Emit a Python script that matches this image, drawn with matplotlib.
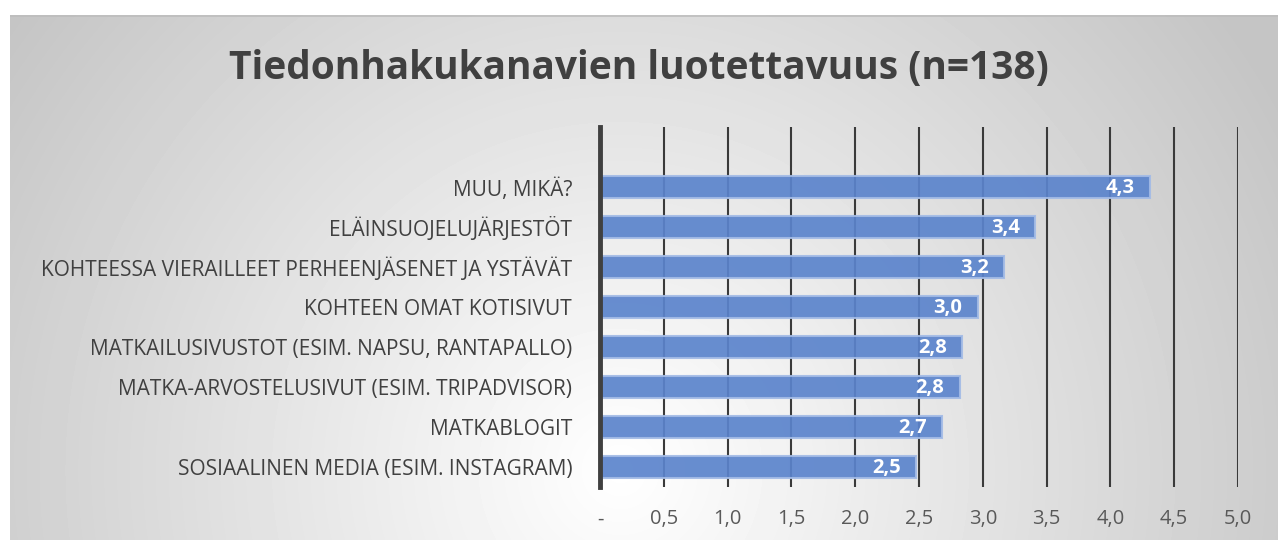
import matplotlib.pyplot as plt
import numpy as np

categories = ['SOSIAALINEN MEDIA (ESIM. INSTAGRAM)',
              'MATKABLOGIT',
              'MATKA-ARVOSTELUSIVUT (ESIM. TRIPADVISOR)',
              'MATKAILUSIVUSTOT (ESIM. NAPSU, RANTAPALLO)',
              'KOHTEEN OMAT KOTISIVUT',
              'KOHTEESSA VIERAILLEET PERHEENJÄSENET JA YSTÄVÄT',
              'ELÄINSUOJELUJÄRJESTÖT',
              'MUU, MIKÄ?']
values = [2.48, 2.68, 2.82, 2.84, 2.96, 3.17, 3.41, 4.31]
xticks = [0, 0.5, 1.0, 1.5, 2.0, 2.5, 3.0, 3.5, 4.0, 4.5, 5.0]
xlabels = ['-', '0,5', '1,0', '1,5', '2,0', '2,5', '3,0', '3,5', '4,0', '4,5', '5,0']
title = 'Tiedonhakukanavien luotettavuus (n=138)'

plt.rcParams['font.family'] = ['Open Sans', 'DejaVu Sans']
W, H = 1278, 540
fig = plt.figure(figsize=(W / 100, H / 100), dpi=100)

# radial gradient background
bg = fig.add_axes([10 / W, 0, (W - 10) / W, (H - 15) / H])
yy, xx = np.mgrid[15:H, 10:W]
d = np.hypot(xx - 620, yy - 470) / 760
shade = 1 - 0.23 * np.clip(d, 0, 1)
bg.imshow(shade, cmap='gray', vmin=0, vmax=1, aspect='auto',
          extent=(10, W, H, 15), interpolation='bilinear')
bg.plot([10, W], [15.5, 15.5], color='#bdbdbd', lw=1.2)
bg.set_xlim(10, W)
bg.set_ylim(H, 15)
bg.axis('off')

ax = fig.add_axes([600 / W, 1 - 487 / H, 638 / W, 360 / H])
ax.patch.set_alpha(0)
y = np.arange(len(categories))
ax.barh(y, values, height=0.56, color='#5b84cc', alpha=0.92,
        edgecolor='#a3bbe6', linewidth=1.5, zorder=3)
for yi, v in zip(y, values):
    ax.annotate(f'{v:.1f}'.replace('.', ','), (v, yi), xytext=(-11, -1),
                textcoords='offset points', ha='right', va='center',
                color='white', fontsize=14.5, fontweight='bold', zorder=4)

ax.set_xlim(0, 5.0)
ax.set_ylim(-0.5, len(categories) + 0.5)
ax.set_xticks(xticks)
ax.set_xticklabels(xlabels, fontsize=14.5, color='#595959')
ax.set_yticks(y)
ax.set_yticklabels(categories, fontsize=15, color='#404040')
ax.tick_params(length=0)
ax.tick_params(axis='x', pad=16)
ax.tick_params(axis='y', pad=20)
for x in xticks[1:]:
    ax.axvline(x, color='#3a3a3a', lw=1.5, zorder=2)
for s in ['top', 'right', 'bottom']:
    ax.spines[s].set_visible(False)
ax.spines['left'].set_color('#404040')
ax.spines['left'].set_linewidth(3.5)
ax.spines['left'].set_zorder(5)

fig.text(0.5, 1 - 68 / H, title, ha='center', va='center',
         fontsize=28, fontweight='bold', color='#404040')

fig.savefig('out.png', dpi=100)
